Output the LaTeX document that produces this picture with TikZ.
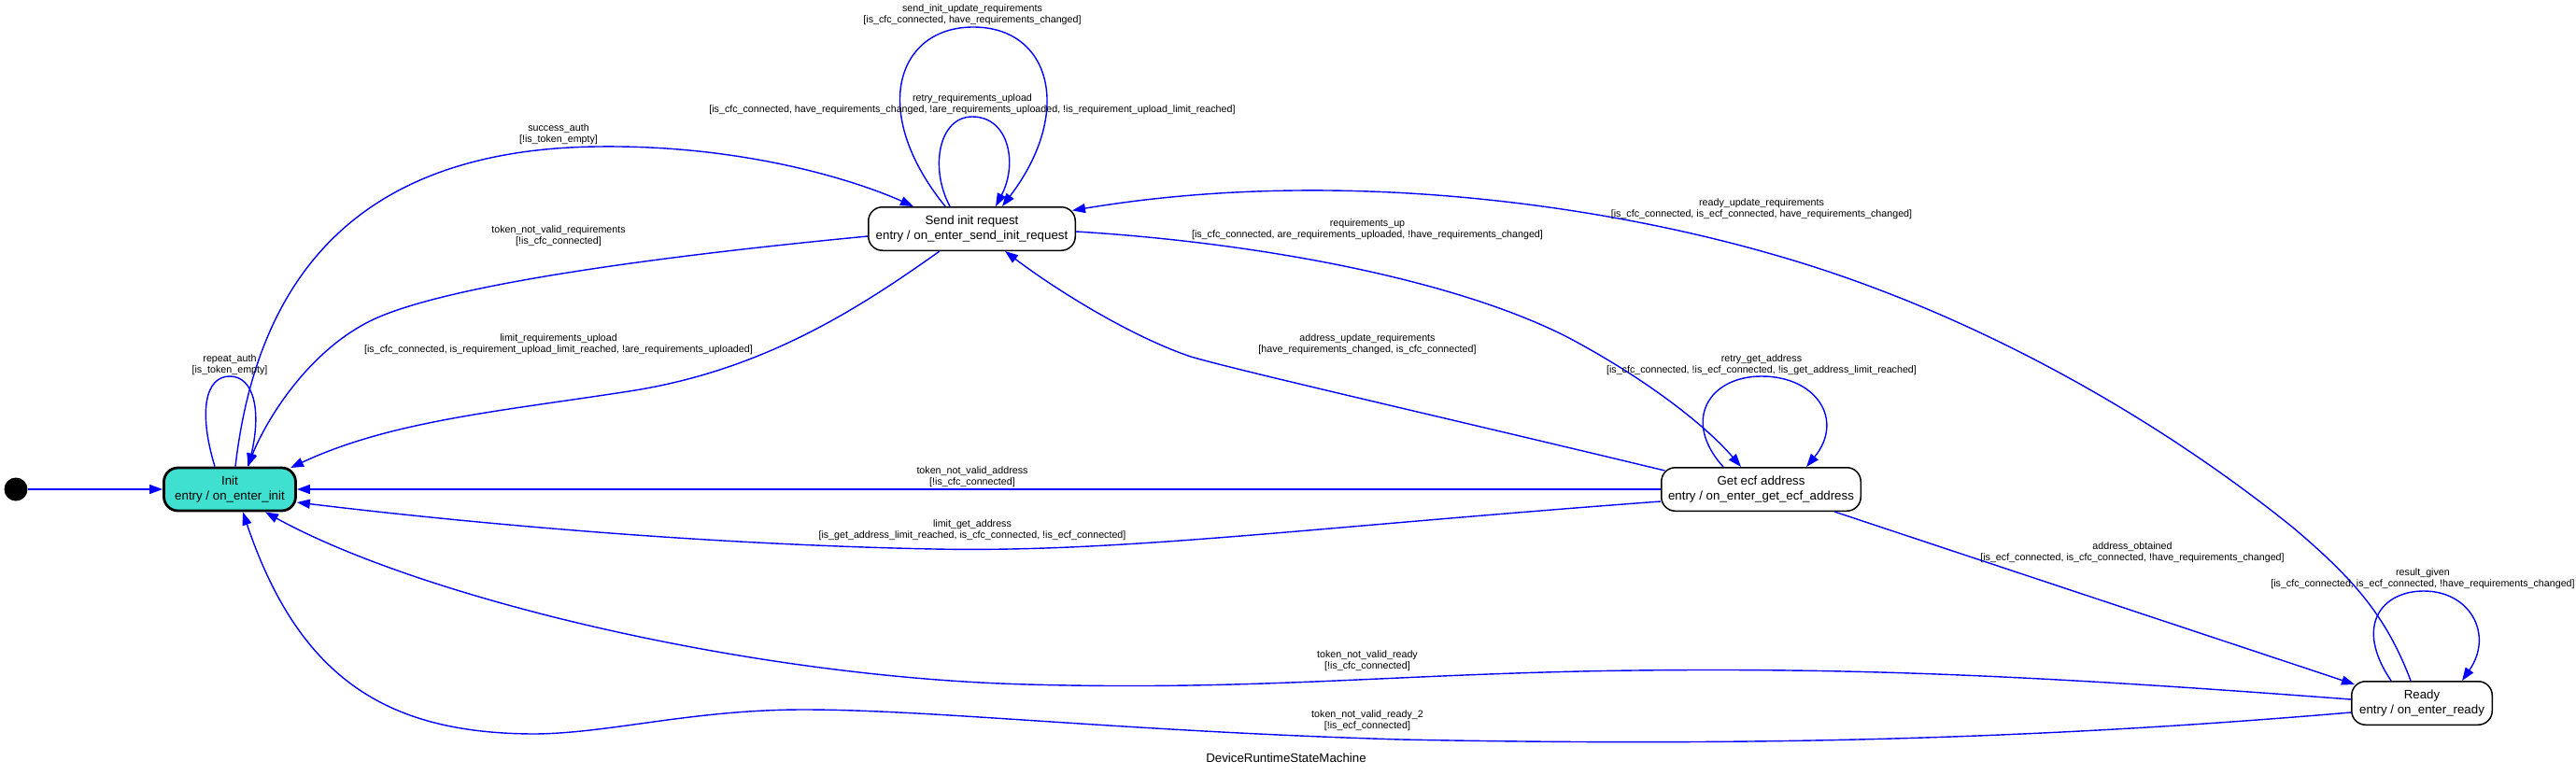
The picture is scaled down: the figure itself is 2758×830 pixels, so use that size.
\documentclass[tikz,border=0pt]{standalone}
\usepackage{fontspec}
\setmainfont{Liberation Sans}
\usetikzlibrary{arrows.meta}
\definecolor{initfill}{HTML}{40E0D0}
\definecolor{edgeblue}{HTML}{0000FF}
\newcommand{\statefont}{\fontsize{13.3}{15.5}\selectfont}
\newcommand{\labelfont}{\fontsize{10.7}{12}\selectfont}
\newcommand{\trans}[2]{#1\\{}[#2]}
\begin{document}
\begin{tikzpicture}[
x=1pt, y=-1pt,
state/.style={
draw,
rounded corners=15pt,
align=center,
font=\statefont,
line width=1.5pt,
inner sep=0pt,
minimum height=46.5pt
},
edge/.style={-{Triangle[length=14pt,width=10pt]}, edgeblue, line width=1.4pt},
elabel/.style={align=center, font=\labelfont, inner sep=0pt}
]
\fill[white] (0,0) rectangle (2758,830);
\useasboundingbox (0,0) rectangle (2758,830);

\node[circle, fill=black, minimum size=25pt, inner sep=0pt] (start) at (17,524) {};
\node[state, fill=initfill, line width=2.8pt, minimum width=141pt, minimum height=46pt] (init) at (246,524)
{Init\\entry / on\_enter\_init};
\node[state, minimum width=221.5pt] (send) at (1040.5,245)
{Send init request\\entry / on\_enter\_send\_init\_request};
\node[state, minimum width=213.5pt] (getecf) at (1885.5,524)
{Get ecf address\\entry / on\_enter\_get\_ecf\_address};
\node[state, minimum width=150.5pt] (ready) at (2593,753)
{Ready\\entry / on\_enter\_ready};

\draw[edge] (start) -- (init.west);
\draw[edge] ([shift={(-16,0)}]init.north) .. controls (212,440) and (220,403) .. (246,403)
  .. controls (272,403) and (280,440) .. ([shift={(20,0)}]init.north);
\draw[edge] ([shift={(6,0)}]init.north) .. controls (275,300) and (380,160) .. (640,157)
  .. controls (800,155) and (920,195) .. ([shift={(-62.5,0)}]send.north);
\draw[edge] ([shift={(-23.5,0)}]send.north) .. controls (995,180) and (1005,125) .. (1041,125)
  .. controls (1080,125) and (1090,175) .. ([shift={(25.5,0)}]send.north);
\draw[edge] ([shift={(-28.5,0)}]send.north) .. controls (930,120) and (960,29) .. (1042,29)
  .. controls (1125,29) and (1150,120) .. ([shift={(32.5,0)}]send.north);
\draw[edge] ([shift={(0,8)}]send.west) .. controls (700,275) and (480,305) .. (400,342)
  .. controls (330,375) and (285,450) .. ([shift={(19,0)}]init.north);
\draw[edge] ([shift={(-34.5,0)}]send.south) .. controls (920,330) and (820,395) .. (680,418)
  .. controls (540,440) and (420,450) .. ([shift={(65,-23)}]init.center);
\draw[edge] ([shift={(0,3)}]send.east) .. controls (1350,260) and (1560,300) .. (1680,362)
  .. controls (1770,410) and (1830,460) .. ([shift={(-21.5,0)}]getecf.north);
\draw[edge] ([shift={(-103,-20)}]getecf.center) .. controls (1550,448) and (1330,398) .. (1275,382)
  .. controls (1210,360) and (1130,310) .. ([shift={(35.5,0)}]send.south);
\draw[edge] ([shift={(-40.5,0)}]getecf.north) .. controls (1800,450) and (1830,403) .. (1886,403)
  .. controls (1945,403) and (1975,450) .. ([shift={(48.5,0)}]getecf.north);
\draw[edge] (getecf.west) -- (init.east);
\draw[edge] ([shift={(0,13)}]getecf.west) .. controls (1400,565) and (1200,592) .. (1000,588)
  .. controls (750,583) and (500,560) .. ([shift={(0,14)}]init.east);
\draw[edge] ([shift={(78.5,0)}]getecf.south) -- ([shift={(-72,-20)}]ready.center);
\draw[edge] ([shift={(-33,0)}]ready.north) .. controls (2520,670) and (2550,633) .. (2595,633)
  .. controls (2645,633) and (2670,680) .. ([shift={(43,0)}]ready.north);
\draw[edge] ([shift={(-12,0)}]ready.north) .. controls (2555,660) and (2520,620) .. (2455,565)
  .. controls (2300,440) and (2100,330) .. (1900,273)
  .. controls (1700,215) and (1420,180) .. ([shift={(107.5,-19.6)}]send.center);
\draw[edge] ([shift={(0,-4)}]ready.west) .. controls (2200,725) and (2000,715) .. (1750,718)
  .. controls (1500,721) and (1350,740) .. (1100,733)
  .. controls (800,725) and (450,640) .. ([shift={(38,0)}]init.south);
\draw[edge] ([shift={(0,10)}]ready.west) .. controls (2200,790) and (1900,800) .. (1500,792)
  .. controls (1200,783) and (1000,760) .. (860,760)
  .. controls (740,760) and (650,786) .. (570,786)
  .. controls (420,785) and (322,732) .. ([shift={(14,0)}]init.south);

\node[elabel] (lrepeat) at (246,391) {\trans{repeat\_auth}{is\_token\_empty}};
\node[elabel] (lsuccess) at (598,144) {\trans{success\_auth}{!is\_token\_empty}};
\node[elabel] (lretryreq) at (1041,112)
{\trans{retry\_requirements\_upload}{is\_cfc\_connected, have\_requirements\_changed, !are\_requirements\_uploaded, !is\_requirement\_upload\_limit\_reached}};
\node[elabel] (lsendupd) at (1041,16)
{\trans{send\_init\_update\_requirements}{is\_cfc\_connected, have\_requirements\_changed}};
\node[elabel] (ltokenreq) at (598,252.5) {\trans{token\_not\_valid\_requirements}{!is\_cfc\_connected}};
\node[elabel] (llimitreq) at (598,369)
{\trans{limit\_requirements\_upload}{is\_cfc\_connected, is\_requirement\_upload\_limit\_reached, !are\_requirements\_uploaded}};
\node[elabel] (lrequp) at (1464,246)
{\trans{requirements\_up}{is\_cfc\_connected, are\_requirements\_uploaded, !have\_requirements\_changed}};
\node[elabel] (laddrupd) at (1464,369)
{\trans{address\_update\_requirements}{have\_requirements\_changed, is\_cfc\_connected}};
\node[elabel] (lretryaddr) at (1886,391)
{\trans{retry\_get\_address}{is\_cfc\_connected, !is\_ecf\_connected, !is\_get\_address\_limit\_reached}};
\node[elabel] (ltokenaddr) at (1041,511) {\trans{token\_not\_valid\_address}{!is\_cfc\_connected}};
\node[elabel] (llimitaddr) at (1041,568)
{\trans{limit\_get\_address}{is\_get\_address\_limit\_reached, is\_cfc\_connected, !is\_ecf\_connected}};
\node[elabel] (laddrok) at (2283,592)
{\trans{address\_obtained}{is\_ecf\_connected, is\_cfc\_connected, !have\_requirements\_changed}};
\node[elabel] (lresult) at (2594,620)
{\trans{result\_given}{is\_cfc\_connected, is\_ecf\_connected, !have\_requirements\_changed}};
\node[elabel] (lreadyupd) at (1886,224)
{\trans{ready\_update\_requirements}{is\_cfc\_connected, is\_ecf\_connected, have\_requirements\_changed}};
\node[elabel] (ltokenready) at (1464,708) {\trans{token\_not\_valid\_ready}{!is\_cfc\_connected}};
\node[elabel] (ltokenready2) at (1464,772) {\trans{token\_not\_valid\_ready\_2}{!is\_ecf\_connected}};
\node[font=\statefont, inner sep=0pt] (title) at (1377,812) {DeviceRuntimeStateMachine};
\end{tikzpicture}
\end{document}
